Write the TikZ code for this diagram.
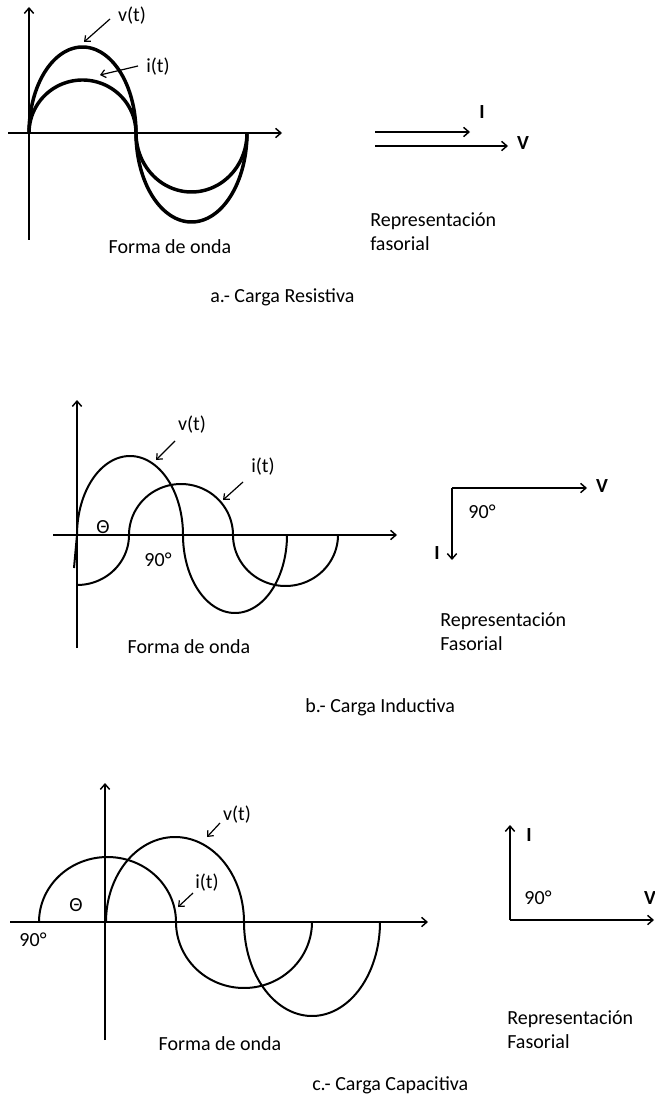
\documentclass[tikz,border=0pt]{standalone}
\usepackage{fontspec}
\setmainfont{Carlito}
\usetikzlibrary{arrows.meta}
\newcommand\wavearc[6]{plot[domain=#5:#6,samples=70,smooth] ({#1+#3*cos(\x)},{#2-#4*sin(\x)})}
\begin{document}
\begin{tikzpicture}[x=0.75pt,y=-0.75pt,
  axisline/.style={line width=1.1pt,-{Straight Barb[length=4pt,width=7pt]}},
  phasor/.style={line width=1.1pt,-{Straight Barb[length=4pt,width=7pt]}},
  pointer/.style={line width=0.9pt,-{Straight Barb[length=3.5pt,width=6pt]}},
  thickwave/.style={line width=2.6pt},
  wave/.style={line width=1.5pt},
  lbl/.style={font=\fontsize{15}{18}\selectfont,inner sep=0pt},
  bl/.style={font=\fontsize{15}{18}\selectfont\bfseries,inner sep=0pt}]
\useasboundingbox (0,0) rectangle (655,1105);
\fill[white] (0,0) rectangle (655,1105);

% ---------------- a.- Carga Resistiva ----------------
\coordinate (ay0) at (29,240); \coordinate (ay1) at (29,7);
\coordinate (ax0) at (8,133);  \coordinate (ax1) at (282,133);
\draw[axisline] (ay0) -- (ay1);
\draw[axisline] (ax0) -- (ax1);
\draw[thickwave] \wavearc{82.5}{133}{53.5}{86}{180}{0};
\draw[thickwave] \wavearc{191.5}{133}{55.5}{89}{180}{360};
\draw[thickwave] \wavearc{82.5}{133}{53.5}{53}{180}{0};
\draw[thickwave] \wavearc{191.5}{133}{55.5}{59}{180}{360};
\node[lbl] (avt) at (132,16) {v(t)};
\node[lbl] (ait) at (158,67) {i(t)};
\coordinate (avs) at (110,19); \coordinate (ave) at (84,42);
\coordinate (ais) at (138,66); \coordinate (aie) at (100,75);
\draw[pointer] (avs) -- (ave);
\draw[pointer] (ais) -- (aie);
\node[lbl] (aform) at (170,247) {Forma de onda};
% phasors
\coordinate (aI0) at (375,132); \coordinate (aI1) at (470,132);
\coordinate (aV0) at (375,146); \coordinate (aV1) at (508,146);
\draw[phasor] (aI0) -- (aI1);
\draw[phasor] (aV0) -- (aV1);
\node[bl] (aIl) at (482,112) {I};
\node[bl] (aVl) at (523,143) {V};
\node[lbl,anchor=west,align=left] (arep) at (370,232) {Representación\\fasorial};
\node[lbl,anchor=west] (acap) at (210,297) {a.- Carga Resistiva};

% ---------------- b.- Carga Inductiva ----------------
\coordinate (by0) at (77,648); \coordinate (by1) at (77,400);
\coordinate (bx0) at (53,535); \coordinate (bx1) at (397,535);
\draw[axisline] (by0) -- (by1);
\draw[axisline] (bx0) -- (bx1);
% v(t)
\draw[wave] (74,568) .. controls (76,552) .. (77,535);
\draw[wave] \wavearc{130}{535}{53}{79}{180}{0};
\draw[wave] \wavearc{235}{535}{52}{78}{180}{360};
% i(t)
\draw[wave] \wavearc{77}{535}{52}{50}{270}{360};
\draw[wave] \wavearc{181}{535}{52}{51}{180}{0};
\draw[wave] \wavearc{285.5}{535}{52.5}{51}{180}{360};
\node[lbl] (bvt) at (192,425) {v(t)};
\node[lbl] (bit) at (263,467) {i(t)};
\coordinate (bvs) at (175,441); \coordinate (bve) at (156,460);
\coordinate (bis) at (243,482); \coordinate (bie) at (223,500);
\draw[pointer] (bvs) -- (bve);
\draw[pointer] (bis) -- (bie);
\node[lbl] (bth) at (103,527) {Θ};
\node[lbl] (b90) at (158,560) {90°};
\node[lbl] (bform) at (189,647) {Forma de onda};
% phasors
\coordinate (bc) at (452,488);
\coordinate (bV1) at (587,488);
\coordinate (bI1) at (452,560);
\draw[phasor] (bc) -- (bV1);
\draw[phasor] (bc) -- (bI1);
\node[bl] (bVl) at (602,486) {V};
\node[bl] (bIl) at (437,553) {I};
\node[lbl] (bang) at (482,512) {90°};
\node[lbl,anchor=west,align=left] (brep) at (440,632) {Representación\\Fasorial};
\node[lbl,anchor=west] (bcap) at (305,707) {b.- Carga Inductiva};

% ---------------- c.- Carga Capacitiva ----------------
\coordinate (cy0) at (105,1040); \coordinate (cy1) at (105,783);
\coordinate (cx0) at (10,922); \coordinate (cx1) at (428,922);
\draw[axisline] (cy0) -- (cy1);
\draw[axisline] (cx0) -- (cx1);
% i(t)
\draw[wave] \wavearc{107.5}{922}{68.5}{65}{180}{0};
\draw[wave] \wavearc{244}{922}{68}{66}{180}{360};
% v(t)
\draw[wave] \wavearc{175}{922}{69}{85}{180}{0};
\draw[wave] \wavearc{312}{922}{68}{94}{180}{360};
\node[lbl] (cvt) at (237,815) {v(t)};
\node[lbl] (cit) at (207,883) {i(t)};
\coordinate (cvs) at (220,823); \coordinate (cve) at (207,837);
\coordinate (cis) at (193,893); \coordinate (cie) at (178,907);
\draw[pointer] (cvs) -- (cve);
\draw[pointer] (cis) -- (cie);
\node[lbl] (cth) at (76,905) {Θ};
\node[lbl] (c90) at (33,940) {90°};
\node[lbl] (cform) at (220,1044) {Forma de onda};
% phasors
\coordinate (cc) at (510,920);
\coordinate (cI1) at (510,825);
\coordinate (cV1) at (654,920);
\draw[phasor] (cc) -- (cI1);
\draw[phasor] (cc) -- (cV1);
\node[bl] (cIl) at (529,835) {I};
\node[bl] (cVl) at (650,898) {V};
\node[lbl] (cang) at (538,898) {90°};
\node[lbl,anchor=west,align=left] (crep) at (507,1030) {Representación\\Fasorial};
\node[lbl,anchor=west] (ccap) at (312,1085) {c.- Carga Capacitiva};
\end{tikzpicture}
\end{document}
